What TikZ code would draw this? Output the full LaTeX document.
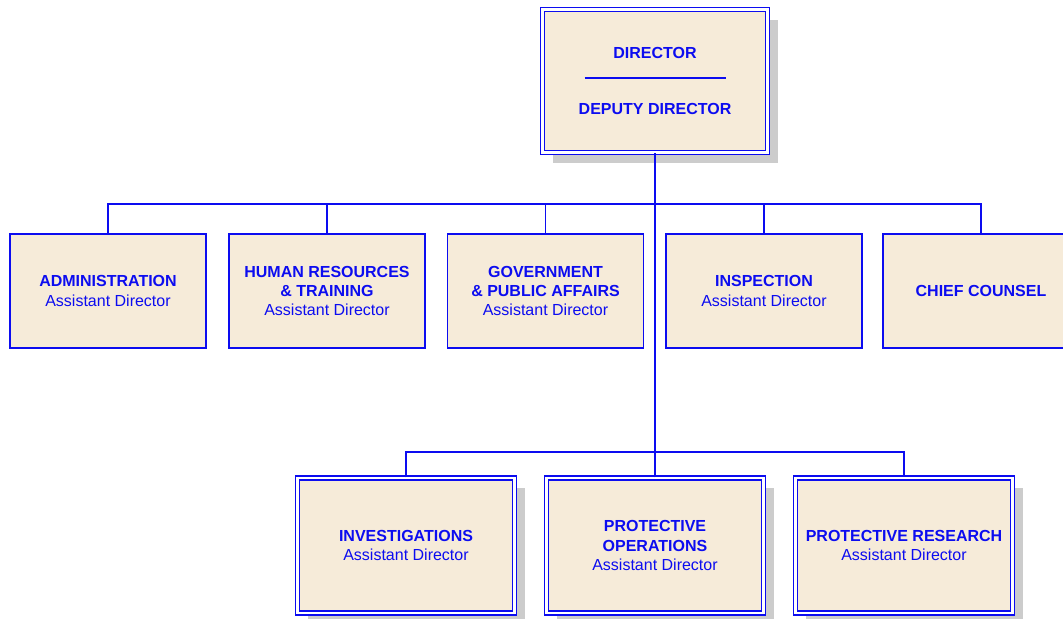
\documentclass[tikz,border=0pt]{standalone}
\usepackage{fontspec}
\setmainfont{Liberation Sans}
\usetikzlibrary{shadows}
\definecolor{orgblue}{RGB}{12,12,240}
\definecolor{orgfill}{RGB}{246,235,217}
\definecolor{orgshadow}{RGB}{204,204,204}
\begin{document}
\begin{tikzpicture}[x=0.75pt,y=-0.75pt,
  unit/.style={draw=orgblue,fill=orgfill,line width=1.2pt,text=orgblue,align=center,inner sep=0pt,
    minimum width=147pt,minimum height=85.5pt,font=\fontsize{12}{14.5}\selectfont},
  chief/.style={unit,double=white,double distance=1.9pt,line width=1.1pt,
    drop shadow={shadow xshift=7.5pt,shadow yshift=-7.5pt,fill=orgshadow,opacity=1}},
  link/.style={draw=orgblue,line width=1.2pt}]
\useasboundingbox (0,0) rectangle (1063,618);
\clip (0,0) rectangle (1063,618);
% top
\node[chief,minimum width=168.75pt,minimum height=107.25pt,font=\bfseries\fontsize{12}{14.5}\selectfont] (dir) at (655,81)
  {DIRECTOR\\[1.1pt]\rule{105.75pt}{1.2pt}\\[12.4pt]DEPUTY DIRECTOR};
% middle row
\node[unit] (adm) at (108,291) {\textbf{ADMINISTRATION}\\Assistant Director};
\node[unit] (hr) at (327,291) {\textbf{HUMAN RESOURCES}\\\textbf{\& TRAINING}\\Assistant Director};
\node[unit] (gov) at (545.5,291) {\textbf{GOVERNMENT}\\\textbf{\& PUBLIC AFFAIRS}\\Assistant Director};
\node[unit] (insp) at (764,291) {\textbf{INSPECTION}\\Assistant Director};
\node[unit] (cc) at (981,291) {\textbf{CHIEF COUNSEL}};
% bottom row
\node[chief,minimum width=162.75pt,minimum height=101.25pt] (inv) at (406,545.5) {\textbf{INVESTIGATIONS}\\Assistant Director};
\node[chief,minimum width=162.75pt,minimum height=101.25pt] (pops) at (655,545.5) {\textbf{PROTECTIVE}\\\textbf{OPERATIONS}\\Assistant Director};
\node[chief,minimum width=162.75pt,minimum height=101.25pt] (pres) at (904,545.5) {\textbf{PROTECTIVE RESEARCH}\\Assistant Director};
% lines
\coordinate (hub) at (655,204);
\coordinate (hubB) at (655,452);
\draw[link] (dir.south) -- (hubB);
\draw[link] (adm.north) |- (hub) -| (cc.north);
\foreach \n in {hr,gov,insp}
  \draw[link] (\n.north) |- (hub);
\draw[link] (inv.north) |- (hubB) -| (pres.north);
\draw[link] (pops.north) -- (hubB);
\end{tikzpicture}
\end{document}
